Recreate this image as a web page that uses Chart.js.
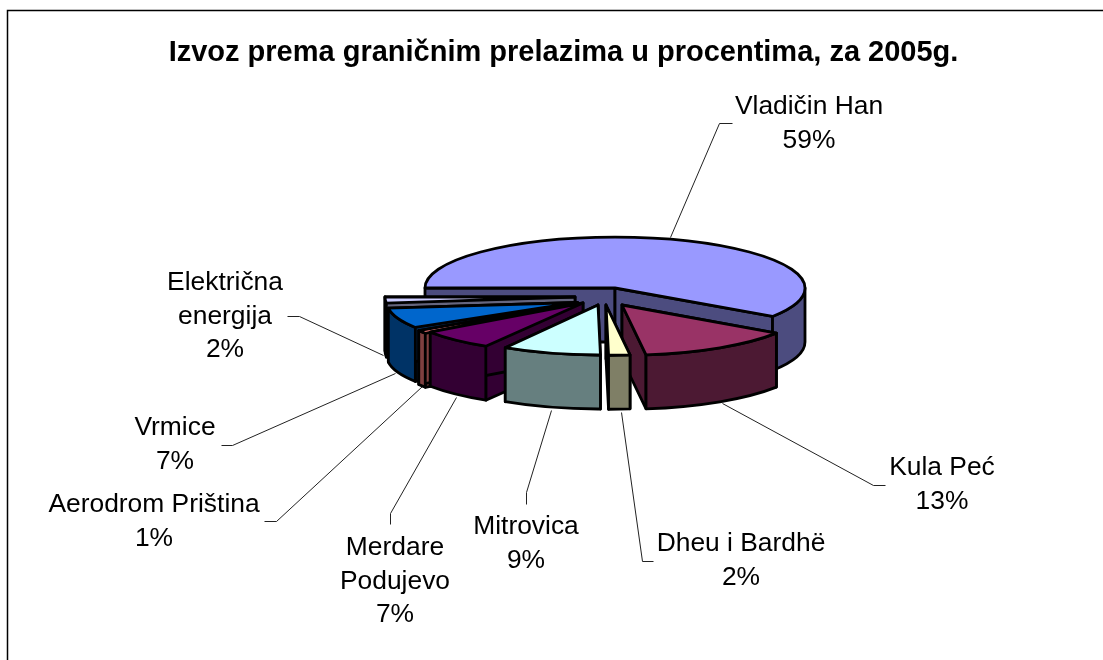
<!DOCTYPE html>
<html><head><meta charset="utf-8">
<style>html,body{margin:0;padding:0;background:#fff;overflow:hidden}#w{width:1103px;height:660px;position:relative}</style>
<script src="https://cdn.jsdelivr.net/npm/chart.js@4"></script></head>
<body><div id="w"><canvas id="c"></canvas></div>
<script>
const chartTitle = 'Izvoz prema graničnim prelazima u procentima, za 2005g.';
const categories = ['Vladičin Han','Kula Peć','Dheu i Bardhë','Mitrovica',['Merdare','Podujevo'],'Aerodrom Priština','Vrmice',['Električna','energija']];
const shares = [59.4, 13.49, 1.84, 8.9, 6.5, 1.0, 6.9, 1.9];
const topColors = ['#9999FF','#993366','#FFFFCC','#CCFFFF','#660066','#FF8080','#0066CC','#CCCCFF'];

// Look of the 3D drawing (not data)
const pieCenter = {x:615, y:288}, wallDepth = 54, pieRadius = 190;
const slicePose = [
 {dx:0,  dy:0,  k:1,    tilt:.268},
 {dx:7,  dy:17, k:.98,  tilt:.27},
 {dx:-9, dy:17, k:.98,  tilt:.27},
 {dx:-17,dy:17, k:.94,  tilt:.28},
 {dx:-32,dy:15, k:.985, tilt:.27},
 {dx:-37,dy:15, k:.985, tilt:.28},
 {dx:-38,dy:14.5,k:1,   tilt:.25},
 {dx:-40,dy:9,  k:1,    tilt:.27}
];
const paintOrder = [0,7,6,5,4,1,3,2];
const labelPose = [
 {x:809,y:107},{x:942,y:468},{x:741,y:544},{x:526,y:527},{x:395,y:548},{x:154,y:505},{x:175,y:428},{x:225,y:283}
];
const leaders = [
 [[732,123],[719,123],[670,237]],
 [[885,485],[873,485],[722,403]],
 [[653,561],[642,561],[621,412]],
 [[526,504],[526,492],[551,410]],
 [[390,524],[390,513],[456,397]],
 [[264,521],[276,521],[422,386]],
 [[221,445],[232,445],[395,373]],
 [[287,316],[299,316],[383,355]]
];

function halfColor(hex){
  const n=parseInt(hex.slice(1),16);
  return `rgb(${(n>>16&255)>>1},${(n>>8&255)>>1},${(n&255)>>1})`;
}

const pie3d = {
  id:'pie3d',
  beforeDraw(chart){
    const c=chart.ctx;
    c.save();c.fillStyle='#fff';c.fillRect(0,0,chart.width,chart.height);
    c.strokeStyle='#000';c.lineWidth=1.5;
    c.beginPath();c.moveTo(7.5,chart.height);c.lineTo(7.5,10.5);c.lineTo(chart.width,10.5);c.stroke();
    c.restore();
  },
  beforeDatasetsDraw(chart){
    const c=chart.ctx, arcs=chart.getDatasetMeta(0).data;
    c.save();
    // leader lines
    c.strokeStyle='#222';c.lineWidth=1;
    leaders.forEach(l=>{c.beginPath();l.forEach((p,i)=>i?c.lineTo(p[0]+.5,p[1]+.5):c.moveTo(p[0]+.5,p[1]+.5));c.stroke();});
    // slices back to front
    c.lineJoin='round';c.lineWidth=2.8;c.strokeStyle='#000';
    paintOrder.forEach(i=>{
      const arc=arcs[i], s=slicePose[i], a1=arc.startAngle, a2=arc.endAngle;
      const cx=pieCenter.x+s.dx, cy=pieCenter.y+s.dy, rx=arc.outerRadius*s.k, ry=rx*s.tilt, d=wallDepth;
      c.fillStyle=halfColor(topColors[i]);
      [a1,a2].forEach(a=>{
        const px=cx+rx*Math.cos(a), py=cy+ry*Math.sin(a);
        c.beginPath();c.moveTo(cx,cy);c.lineTo(px,py);c.lineTo(px,py+d);c.lineTo(cx,cy+d);c.closePath();c.fill();c.stroke();
      });
      [0,2*Math.PI].forEach(base=>{
        const lo=Math.max(a1,base), hi=Math.min(a2,base+Math.PI);
        if(hi<=lo) return;
        c.beginPath();c.ellipse(cx,cy,rx,ry,0,lo,hi);c.ellipse(cx,cy+d,rx,ry,0,hi,lo,true);c.closePath();c.fill();c.stroke();
      });
      // top face: the library's own arc, laid flat
      c.save();
      c.translate(cx,cy);c.scale(s.k,s.k*s.tilt);c.translate(-arc.x,-arc.y);
      arc.draw(c);
      c.restore();
      c.beginPath();c.moveTo(cx,cy);c.ellipse(cx,cy,rx,ry,0,a1,a2);c.closePath();c.stroke();
    });
    // labels
    c.fillStyle='#000';c.font='26.4px "Liberation Sans", Arial, sans-serif';c.textAlign='center';c.textBaseline='middle';
    const total=shares.reduce((a,b)=>a+b,0);
    categories.forEach((cat,i)=>{
      const lines=[].concat(cat,Math.round(shares[i]/total*100)+'%');
      lines.forEach((t,j)=>c.fillText(t,labelPose[i].x,labelPose[i].y+j*33.5));
    });
    c.restore();
    return false;
  }
};

new Chart(document.getElementById('c'),{
  type:'pie',
  data:{labels:categories,datasets:[{data:shares,backgroundColor:topColors,borderWidth:0}]},
  options:{
    responsive:true,maintainAspectRatio:false,animation:false,rotation:270,radius:pieRadius,
    layout:{padding:{left:24}},
    events:[],
    plugins:{
      legend:{display:false},tooltip:{enabled:false},
      title:{display:true,text:chartTitle,color:'#000',font:{family:'"Liberation Sans", Arial, sans-serif',size:29,weight:'bold'},padding:{top:36,bottom:10}}
    }
  },
  plugins:[pie3d]
});
</script></body></html>
